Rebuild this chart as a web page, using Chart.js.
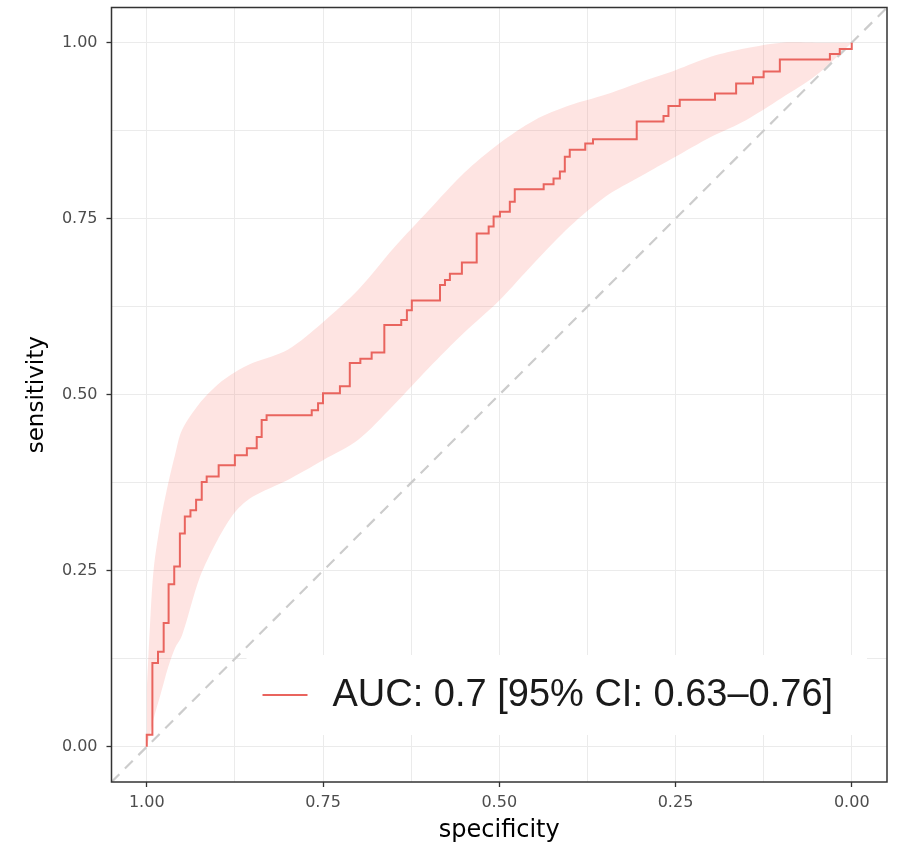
<!DOCTYPE html>
<html>
<head>
<meta charset="utf-8">
<script src="https://cdn.jsdelivr.net/npm/chart.js@4.4.1/dist/chart.umd.min.js"></script>
<style>
  html, body { margin: 0; padding: 0; background: #ffffff; }
  #wrap { width: 897px; height: 849px; }
</style>
</head>
<body>
<div id="wrap"><canvas id="c" width="897" height="849"></canvas></div>
<script>
// ROC curve path (specificity, sensitivity)
const specificity = [1.000,1.000,0.992,0.992,0.984,0.984,0.976,0.976,0.969,0.969,0.961,0.961,0.953,0.953,0.946,0.946,0.938,0.938,0.930,0.930,0.922,0.922,0.915,0.915,0.898,0.898,0.875,0.875,0.858,0.858,0.844,0.844,0.837,0.837,0.830,0.830,0.766,0.766,0.757,0.757,0.750,0.750,0.726,0.726,0.712,0.712,0.697,0.697,0.681,0.681,0.663,0.663,0.639,0.639,0.631,0.631,0.624,0.624,0.584,0.584,0.577,0.577,0.570,0.570,0.553,0.553,0.532,0.532,0.515,0.515,0.508,0.508,0.499,0.499,0.485,0.485,0.478,0.478,0.437,0.437,0.423,0.423,0.414,0.414,0.407,0.407,0.400,0.400,0.378,0.378,0.367,0.367,0.305,0.305,0.267,0.267,0.260,0.260,0.244,0.244,0.194,0.194,0.164,0.164,0.140,0.140,0.125,0.125,0.102,0.102,0.031,0.031,0.017,0.017,0.000,0.000];
const sensitivity = [0.000,0.017,0.017,0.119,0.119,0.135,0.135,0.176,0.176,0.231,0.231,0.256,0.256,0.303,0.303,0.327,0.327,0.336,0.336,0.351,0.351,0.376,0.376,0.384,0.384,0.400,0.400,0.414,0.414,0.424,0.424,0.440,0.440,0.464,0.464,0.471,0.471,0.478,0.478,0.488,0.488,0.502,0.502,0.512,0.512,0.545,0.545,0.551,0.551,0.560,0.560,0.599,0.599,0.606,0.606,0.620,0.620,0.634,0.634,0.656,0.656,0.663,0.663,0.672,0.672,0.688,0.688,0.729,0.729,0.739,0.739,0.753,0.753,0.760,0.760,0.774,0.774,0.792,0.792,0.799,0.799,0.807,0.807,0.817,0.817,0.838,0.838,0.848,0.848,0.857,0.857,0.863,0.863,0.888,0.888,0.896,0.896,0.910,0.910,0.919,0.919,0.928,0.928,0.942,0.942,0.951,0.951,0.959,0.959,0.976,0.976,0.984,0.984,0.991,0.991,1.000];

// 95% CI band of sensitivity
const ciSpecificity = [1.000,0.995,0.990,0.980,0.970,0.960,0.950,0.925,0.900,0.875,0.850,0.800,0.750,0.700,0.650,0.600,0.550,0.500,0.450,0.400,0.350,0.300,0.250,0.200,0.150,0.100,0.050,0.000];
const ciLower       = [0.000,0.020,0.041,0.076,0.112,0.140,0.158,0.240,0.293,0.333,0.355,0.379,0.407,0.436,0.485,0.538,0.588,0.634,0.688,0.739,0.781,0.810,0.838,0.866,0.890,0.921,0.954,1.000];
const ciUpper       = [0.080,0.180,0.254,0.322,0.372,0.414,0.450,0.488,0.514,0.532,0.545,0.564,0.603,0.649,0.708,0.762,0.815,0.857,0.890,0.911,0.926,0.944,0.961,0.980,0.992,1.000,1.000,1.000];

// chance diagonal
const chanceSpecificity = [1.05, -0.05];
const chanceSensitivity = [-0.05, 1.05];

// axes
const majorTicks = [0, 0.25, 0.5, 0.75, 1];
const minorTicks = [0.125, 0.375, 0.625, 0.875];
const xTickLabels = {1: '1.00', 0.75: '0.75', 0.5: '0.50', 0.25: '0.25', 0: '0.00'};
const yTickLabels = {1: '1.00', 0.75: '0.75', 0.5: '0.50', 0.25: '0.25', 0: '0.00'};
const xTitle = 'specificity';
const yTitle = 'sensitivity';
const legendLabel = 'AUC: 0.7 [95% CI: 0.63\u20130.76]';

const rocColor = '#E9645E';
const bandColor = 'rgba(248,118,109,0.2)';

const pts = (xs, ys) => xs.map((x, i) => ({x: x, y: ys[i]}));
const allTicks = majorTicks.concat(minorTicks).sort((a, b) => a - b);
const isMajor = v => majorTicks.some(m => Math.abs(m - v) < 1e-9);

const panelPlugin = {
  id: 'panel',
  afterDatasetsDraw(chart) {
    const {ctx, chartArea: a} = chart;
    ctx.save();
    // legend box inside the panel
    const boxRight = a.right - 20;
    const boxLeft = a.left + 135;
    const boxTop = a.bottom - 127;
    const boxBottom = a.bottom - 47;
    ctx.fillStyle = '#ffffff';
    ctx.fillRect(boxLeft, boxTop, boxRight - boxLeft, boxBottom - boxTop);
    const cy = (boxTop + boxBottom) / 2;
    ctx.strokeStyle = rocColor;
    ctx.lineWidth = 1.8;
    ctx.beginPath();
    ctx.moveTo(boxLeft + 16, cy);
    ctx.lineTo(boxLeft + 61, cy);
    ctx.stroke();
    ctx.fillStyle = '#1a1a1a';
    ctx.font = '38px "Liberation Sans", Arial, sans-serif';
    ctx.textBaseline = 'middle';
    ctx.textAlign = 'left';
    ctx.fillText(legendLabel, boxLeft + 86, cy + 1);
    // panel border
    ctx.strokeStyle = '#333333';
    ctx.lineWidth = 1.5;
    ctx.strokeRect(a.left, a.top, a.right - a.left, a.bottom - a.top);
    ctx.restore();
  }
};

const gridColor = '#EBEBEB';
const tickMarkColor = ctx => (ctx.tick && isMajor(ctx.tick.value)) ? '#333333' : 'rgba(0,0,0,0)';

new Chart(document.getElementById('c'), {
  type: 'line',
  data: {
    datasets: [
      {
        label: 'CI lower',
        data: pts(ciSpecificity, ciLower),
        borderWidth: 0,
        borderColor: 'rgba(0,0,0,0)',
        pointRadius: 0,
        fill: false,
        tension: 0.3,
        order: 4
      },
      {
        label: 'CI upper',
        data: pts(ciSpecificity, ciUpper),
        borderWidth: 0,
        borderColor: 'rgba(0,0,0,0)',
        backgroundColor: bandColor,
        pointRadius: 0,
        fill: '-1',
        tension: 0.3,
        order: 3
      },
      {
        label: 'chance',
        data: pts(chanceSpecificity, chanceSensitivity),
        borderColor: '#CCCCCC',
        borderWidth: 2.2,
        borderDash: [11, 8],
        pointRadius: 0,
        fill: false,
        order: 2
      },
      {
        label: legendLabel,
        data: pts(specificity, sensitivity),
        borderColor: rocColor,
        borderWidth: 2,
        pointRadius: 0,
        fill: false,
        tension: 0,
        order: 1
      }
    ]
  },
  options: {
    responsive: false,
    animation: false,
    events: [],
    layout: { padding: { top: 7.5, right: 10, left: 0, bottom: 0 } },
    plugins: { legend: { display: false }, tooltip: { enabled: false } },
    scales: {
      x: {
        type: 'linear',
        reverse: true,
        min: -0.05,
        max: 1.05,
        afterBuildTicks: s => { s.ticks = allTicks.map(v => ({value: v})); },
        afterFit: s => { s.height = 67; s.paddingLeft = 0; s.paddingRight = 0; },
        grid: { color: gridColor, lineWidth: 1, drawTicks: true, tickLength: 5, tickColor: tickMarkColor, tickWidth: 1.3 },
        border: { display: false },
        ticks: {
          autoSkip: false, maxRotation: 0, padding: 6,
          color: '#4D4D4D',
          font: { family: '"DejaVu Sans", sans-serif', size: 16 },
          callback: v => (xTickLabels[v] !== undefined && isMajor(v)) ? xTickLabels[v] : ''
        },
        title: { display: true, text: xTitle, color: '#000000', font: { family: '"DejaVu Sans", sans-serif', size: 24 }, padding: { top: 0, bottom: 4 } }
      },
      y: {
        type: 'linear',
        min: -0.05,
        max: 1.05,
        afterBuildTicks: s => { s.ticks = allTicks.map(v => ({value: v})); },
        afterFit: s => { s.width = 111.5; s.paddingTop = 0; s.paddingBottom = 0; },
        grid: { color: gridColor, lineWidth: 1, drawTicks: true, tickLength: 5, tickColor: tickMarkColor, tickWidth: 1.3 },
        border: { display: false },
        ticks: {
          autoSkip: false, padding: 9,
          color: '#4D4D4D',
          font: { family: '"DejaVu Sans", sans-serif', size: 16 },
          callback: v => (yTickLabels[v] !== undefined && isMajor(v)) ? yTickLabels[v] : ''
        },
        title: { display: true, text: yTitle, color: '#000000', font: { family: '"DejaVu Sans", sans-serif', size: 23 }, padding: { top: 23, bottom: 0 } }
      }
    }
  },
  plugins: [panelPlugin]
});
</script>
</body>
</html>
